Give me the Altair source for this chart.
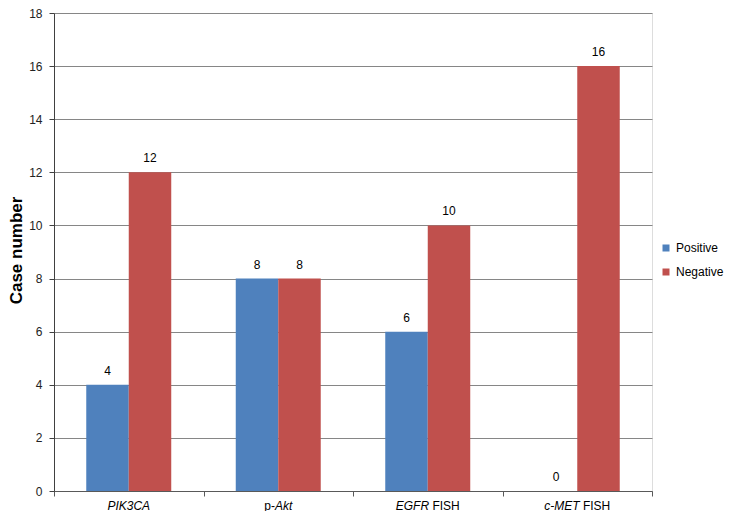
import altair as alt
import pandas as pd

# ---- data ----
categories = ["PIK3CA", "p-Akt", "EGFR FISH", "c-MET FISH"]
series = ["Positive", "Negative"]
positive = [4, 8, 6, 0]
negative = [12, 8, 10, 16]
# axis label pieces: (text, italic?)
label_parts = [
    [("PIK3CA", True)],
    [("p-", False), ("Akt", True)],
    [("EGFR", True), (" FISH", False)],
    [("c-MET", True), (" FISH", False)],
]
y_ticks = [0, 2, 4, 6, 8, 10, 12, 14, 16, 18]
colors = ["#4F81BD", "#C0504D"]

FONT = "Liberation Sans"
FS = 12

# Arial / Liberation Sans advance widths (per 1000 em)
WIDTHS = {
    "P": 667, "I": 278, "K": 667, "3": 556, "C": 722, "A": 667, "p": 556,
    "-": 333, "k": 500, "t": 278, "E": 667, "G": 778, "F": 611, "R": 722,
    " ": 278, "S": 667, "H": 722, "c": 500, "M": 833, "T": 611,
}


def text_width(s):
    return sum(WIDTHS.get(ch, 556) for ch in s) * FS / 1000.0


rows = []
for cat, p, n in zip(categories, positive, negative):
    rows.append({"category": cat, "series": series[0], "value": p})
    rows.append({"category": cat, "series": series[1], "value": n})
df = pd.DataFrame(rows)

W, H = 598, 478

x_axis = alt.Axis(labels=False, title=None, tickBand="extent", tickSize=5,
                  domainColor="#595959", tickColor="#595959", grid=False)
y_axis = alt.Axis(values=y_ticks, title="Case number", titleFont=FONT,
                  titleFontSize=17, titleFontWeight="bold", titleColor="#000000",
                  titleAngle=270, titleAlign="center", titleBaseline="alphabetic",
                  titleX=-33, titleY=237,
                  labelFont=FONT, labelFontSize=FS, labelColor="#222222",
                  labelPadding=7, tickSize=5, tickColor="#404040",
                  domainColor="#404040", gridColor="#868686", gridWidth=1,
                  grid=True)

x_enc = alt.X("category:N", sort=categories,
              scale=alt.Scale(paddingInner=0, paddingOuter=0), axis=x_axis)
y_scale = alt.Scale(domain=[0, 18], nice=False)
off_enc = alt.XOffset("series:N", sort=series,
                      scale=alt.Scale(paddingInner=0, paddingOuter=0.759))

base = alt.Chart(df)

bars = base.mark_bar().encode(
    x=x_enc,
    xOffset=off_enc,
    y=alt.Y("value:Q", scale=y_scale, axis=y_axis),
    color=alt.Color("series:N", sort=series,
                    scale=alt.Scale(domain=series, range=colors),
                    legend=alt.Legend(orient="none", legendX=606, legendY=229,
                                      title=None, symbolType="square",
                                      symbolSize=49, symbolStrokeWidth=0,
                                      labelFont=FONT, labelFontSize=FS,
                                      labelColor="#000000", labelOffset=4,
                                      rowPadding=12, padding=0)),
)

values = base.mark_text(baseline="alphabetic", dy=-10, font=FONT,
                        fontSize=FS, color="#000000").encode(
    x=x_enc,
    xOffset=off_enc,
    y=alt.Y("value:Q", scale=y_scale, axis=y_axis),
    text=alt.Text("value:Q"),
)

layers = [bars, values]
for cat, parts in zip(categories, label_parts):
    total = sum(text_width(t) for t, _ in parts)
    offset = -total / 2.0
    for txt, ital in parts:
        shown = txt.strip()
        lead = text_width(txt[: len(txt) - len(txt.lstrip())])
        lab = alt.Chart(pd.DataFrame({"category": [cat], "label": [shown]})).mark_text(
            align="left", baseline="alphabetic", dx=offset + lead, dy=18.5,
            font=FONT, fontSize=FS, color="#000000",
            fontStyle="italic" if ital else "normal",
        ).encode(
            x=x_enc,
            y=alt.Y("v:Q", scale=y_scale, axis=y_axis),
            text=alt.Text("label:N"),
        ).transform_calculate(v="0")
        layers.append(lab)
        offset += text_width(txt)

chart = alt.layer(*layers).properties(
    width=W, height=H,
    autosize=alt.AutoSizeParams(type="none"),
    padding={"left": 46, "top": 5, "right": 74, "bottom": 20},
).configure_view(stroke=None).configure(font=FONT)

chart.save("out.html", embed_options={"renderer": "svg", "actions": False})
